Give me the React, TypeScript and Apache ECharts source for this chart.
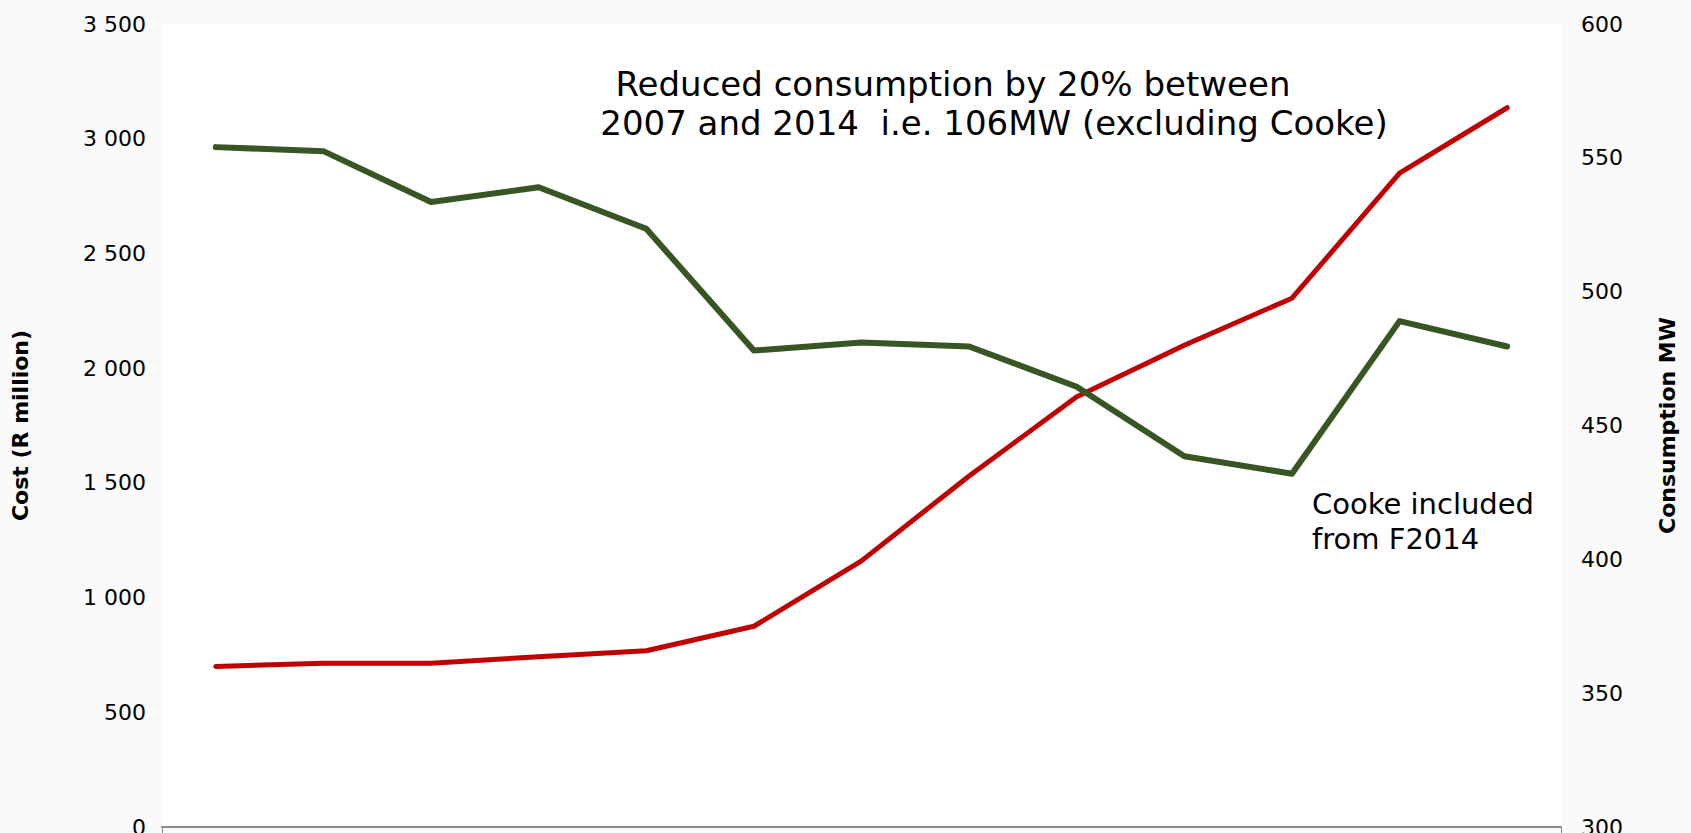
import React, { useEffect, useRef } from "react";
import * as echarts from "echarts";

const categories = ["F2003", "F2004", "F2005", "F2006", "F2007", "F2008", "F2009", "F2010", "F2011", "F2012", "F2013", "F2014", "F2015"];
const costValues = [700, 714, 714, 742, 768, 875, 1160, 1530, 1875, 2100, 2305, 2850, 3135];
const consumptionValues = [554, 552.5, 533.5, 539, 523.5, 478, 481, 479.5, 464.5, 438.5, 432, 489, 479.5];
const leftTicks = { min: 0, max: 3500, interval: 500 };
const rightTicks = { min: 300, max: 600, interval: 50 };
const noteLines = ["Reduced consumption by 20% between", "2007 and 2014  i.e. 106MW (excluding Cooke)"];
const cookeLines = ["Cooke included", "from F2014"];

const FONT = "'Century Gothic', 'DejaVu Sans', sans-serif";

export default function App() {
  const ref = useRef<HTMLDivElement>(null);
  useEffect(() => {
    if (!ref.current) return;
    const chart = echarts.init(ref.current, null, { renderer: "svg" });
    chart.setOption({
      animation: false,
      backgroundColor: "#fafafa",
      textStyle: { fontFamily: FONT },
      grid: {
        left: 162,
        right: 130,
        top: 24,
        bottom: 6,
        containLabel: false,
        outerBoundsMode: "none",
        show: true,
        backgroundColor: "#ffffff",
        borderWidth: 0,
      },
      xAxis: {
        type: "category",
        data: categories,
        boundaryGap: true,
        axisLine: { show: true, lineStyle: { color: "#8a8a8a", width: 2 } },
        axisTick: { show: true, length: 10, lineStyle: { color: "#8a8a8a", width: 1 } },
        axisLabel: {
          interval: (i: number) => i === categories.length - 1,
          margin: 3,
          color: "#9a9a9a",
          fontSize: 20,
          fontFamily: FONT,
        },
        splitLine: { show: false },
      },
      yAxis: [
        {
          type: "value",
          min: leftTicks.min,
          max: leftTicks.max,
          interval: leftTicks.interval,
          name: "Cost (R million)",
          nameLocation: "middle",
          nameGap: 131,
          nameRotate: 90,
          nameTextStyle: { fontSize: 22, fontWeight: "bold", color: "#000", fontFamily: FONT },
          axisLine: { show: false },
          axisTick: { show: false },
          splitLine: { show: false },
          axisLabel: {
            margin: 16,
            fontSize: 22,
            color: "#000",
            fontFamily: FONT,
            formatter: (v: number) => String(v).replace(/\B(?=(\d{3})+(?!\d))/g, " "),
          },
        },
        {
          type: "value",
          min: rightTicks.min,
          max: rightTicks.max,
          interval: rightTicks.interval,
          position: "right",
          name: "Consumption MW",
          nameLocation: "middle",
          nameGap: 95,
          nameRotate: 90,
          nameTextStyle: { fontSize: 22, fontWeight: "bold", color: "#000", fontFamily: FONT },
          axisLine: { show: false },
          axisTick: { show: false },
          splitLine: { show: false },
          axisLabel: { margin: 20, fontSize: 22, color: "#000", fontFamily: FONT },
        },
      ],
      series: [
        {
          name: "Cost",
          type: "line",
          yAxisIndex: 0,
          data: costValues,
          symbol: "none",
          lineStyle: { color: "#c00000", width: 5, cap: "round", join: "round" },
          itemStyle: { color: "#c00000" },
          z: 2,
        },
        {
          name: "Consumption",
          type: "line",
          yAxisIndex: 1,
          data: consumptionValues,
          symbol: "none",
          lineStyle: { color: "#375623", width: 6, cap: "round", join: "round" },
          itemStyle: { color: "#375623" },
          z: 3,
        },
      ],
      graphic: [
        {
          type: "text",
          x: 953,
          y: 84,
          style: { text: noteLines[0], font: `34px ${FONT}`, fill: "#000", align: "center", verticalAlign: "middle" },
        },
        {
          type: "text",
          x: 994,
          y: 123,
          style: { text: noteLines[1], font: `34px ${FONT}`, fill: "#000", align: "center", verticalAlign: "middle" },
        },
        {
          type: "text",
          x: 1312,
          y: 504,
          style: { text: cookeLines[0], font: `29px ${FONT}`, fill: "#000", align: "left", verticalAlign: "middle" },
        },
        {
          type: "text",
          x: 1312,
          y: 539,
          style: { text: cookeLines[1], font: `29px ${FONT}`, fill: "#000", align: "left", verticalAlign: "middle" },
        },
      ],
    });
    return () => chart.dispose();
  }, []);
  return <div ref={ref} style={{ position: "fixed", left: 0, top: 0, width: 1691, height: 833 }} />;
}
